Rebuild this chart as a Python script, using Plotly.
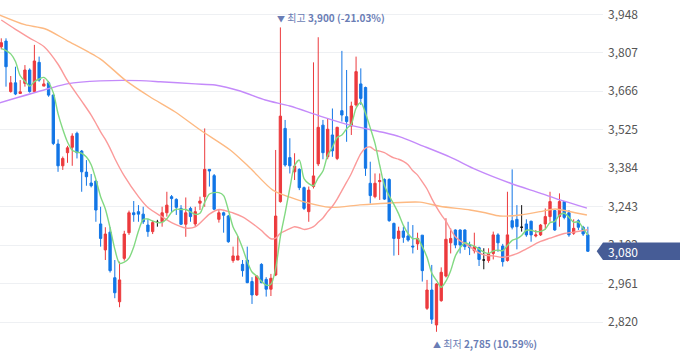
import plotly.graph_objects as go

# ---------------- data ----------------
days = list(range(125))

open_ = [3829, 3850, 3665, 3697, 3658, 3695, 3744, 3665, 3772, 3685,
         3697, 3652, 3473, 3393, 3441, 3461, 3512, 3447, 3370, 3330,
         3337, 3180, 3085, 3150, 2983, 2895, 3054, 3148, 3221, 3225,
         3216, 3176, 3152, 3186, 3188, 3221, 3280, 3270, 3237, 3179,
         3237, 3180, 3256, 3280, 3380, 3357, 3197, 3221, 3209, 3046,
         3048, 3032, 3048, 2969, 2920, 3032, 2977, 2941, 2993, 3262,
         3530, 3423, 3371, 3380, 3313, 3225, 3317, 3400, 3542, 3426,
         3506, 3420, 3595, 3573, 3539, 3616, 3693, 3680, 3329, 3280,
         3335, 3343, 3343, 3182, 3127, 3154, 3136, 3099, 3107, 3139,
         2871, 2938, 2810, 2899, 2989, 3111, 3158, 3158, 3158, 3103,
         3082, 3093, 3048, 3046, 3072, 3140, 3099, 3046, 3192, 3197,
         3168, 3180, 3190, 3136, 3140, 3180, 3207, 3229, 3207, 3262,
         3221, 3146, 3192, 3168, 3140]

high = [3860, 3860, 3722, 3756, 3707, 3762, 3750, 3836, 3793, 3710,
        3704, 3656, 3490, 3427, 3466, 3512, 3518, 3451, 3414, 3363,
        3341, 3243, 3168, 3168, 3048, 3042, 3155, 3229, 3264, 3249,
        3243, 3197, 3192, 3195, 3243, 3298, 3286, 3274, 3249, 3277,
        3243, 3243, 3280, 3530, 3380, 3363, 3231, 3225, 3213, 3097,
        3136, 3048, 3097, 2985, 2993, 3036, 2985, 2997, 3451, 3900,
        3561, 3494, 3439, 3384, 3317, 3317, 3772, 3864, 3561, 3567,
        3603, 3536, 3814, 3744, 3628, 3793, 3750, 3683, 3408, 3365,
        3365, 3347, 3347, 3185, 3170, 3170, 3188, 3176, 3148, 3139,
        2975, 3030, 2963, 3021, 3201, 3164, 3160, 3160, 3160, 3115,
        3148, 3097, 3091, 3091, 3152, 3146, 3107, 3298, 3380, 3249,
        3249, 3197, 3192, 3158, 3180, 3237, 3298, 3231, 3292, 3264,
        3231, 3197, 3197, 3173, 3170]

low = [3820, 3683, 3661, 3652, 3656, 3683, 3661, 3661, 3701, 3685,
       3646, 3469, 3371, 3378, 3404, 3393, 3420, 3298, 3320, 3314,
       3188, 3097, 3048, 3002, 2908, 2875, 3046, 3140, 3188, 3188,
       3180, 3133, 3143, 3170, 3170, 3207, 3221, 3213, 3176, 3133,
       3188, 3170, 3231, 3243, 3317, 3231, 3185, 3148, 3111, 3038,
       3048, 2987, 2963, 2887, 2916, 2963, 2914, 2916, 2989, 3258,
       3390, 3365, 3341, 3304, 3231, 3188, 3310, 3392, 3417, 3417,
       3426, 3414, 3555, 3481, 3506, 3610, 3616, 3356, 3255, 3274,
       3268, 3268, 3188, 3064, 3066, 3111, 3115, 3072, 3085, 2969,
       2865, 2814, 2785, 2895, 2984, 3072, 3091, 3072, 3085, 3066,
       3072, 3026, 3014, 3038, 3050, 3078, 3024, 3042, 3160, 3087,
       3152, 3133, 3115, 3131, 3136, 3160, 3188, 3155, 3170, 3197,
       3133, 3140, 3158, 3136, 3078]

close = [3844, 3756, 3697, 3656, 3664, 3744, 3665, 3777, 3707, 3693,
         3652, 3475, 3393, 3420, 3459, 3502, 3441, 3371, 3353, 3320,
         3231, 3127, 3143, 3009, 2928, 2975, 3143, 3221, 3214, 3216,
         3188, 3152, 3185, 3186, 3221, 3249, 3273, 3241, 3179, 3221,
         3207, 3225, 3264, 3380, 3374, 3234, 3221, 3212, 3115, 3063,
         3063, 3009, 2965, 2920, 2989, 2965, 2941, 2981, 3209, 3575,
         3396, 3393, 3392, 3313, 3237, 3304, 3356, 3534, 3441, 3527,
         3448, 3534, 3579, 3555, 3612, 3738, 3640, 3384, 3284, 3329,
         3339, 3271, 3192, 3127, 3154, 3131, 3121, 3096, 3127, 3009,
         2938, 2831, 2960, 3003, 3124, 3127, 3103, 3103, 3097, 3093,
         3097, 3050, 3048, 3070, 3140, 3111, 3042, 3140, 3168, 3170,
         3168, 3140, 3140, 3140, 3176, 3207, 3262, 3158, 3262, 3204,
         3140, 3164, 3168, 3143, 3080]

# 5-day moving average (green), one value per day
ma5 = [3822, 3815, 3803, 3775, 3723, 3703, 3685, 3701, 3711, 3717,
       3699, 3661, 3584, 3527, 3480, 3450, 3443, 3439, 3425, 3397,
       3343, 3280, 3235, 3166, 3088, 3036, 3040, 3055, 3096, 3154,
       3196, 3198, 3191, 3185, 3186, 3199, 3223, 3234, 3233, 3233,
       3224, 3215, 3219, 3259, 3290, 3295, 3295, 3284, 3231, 3169,
       3135, 3092, 3043, 3004, 2989, 2970, 2956, 2959, 3017, 3134,
       3220, 3311, 3393, 3414, 3346, 3328, 3320, 3349, 3374, 3432,
       3461, 3497, 3506, 3529, 3546, 3604, 3625, 3586, 3532, 3475,
       3395, 3321, 3283, 3252, 3217, 3175, 3145, 3126, 3126, 3097,
       3058, 3000, 2973, 2948, 2971, 3009, 3063, 3092, 3111, 3105,
       3099, 3088, 3077, 3072, 3081, 3084, 3082, 3101, 3120, 3126,
       3138, 3157, 3157, 3152, 3153, 3161, 3185, 3189, 3213, 3219,
       3205, 3186, 3188, 3164, 3139]

# 20-day moving average (red)
ma20_day = [0, 3, 6, 9, 12, 14, 17, 19, 20, 21, 22, 23, 24, 26, 29, 31, 34, 36,
            39, 41, 44, 46, 49, 51, 54, 55, 56, 57, 58, 59, 60, 61, 62, 63, 64,
            65, 66, 67, 68, 69, 70, 71, 72, 73, 74, 75, 76, 77, 78, 79, 80, 81,
            82, 83, 84, 85, 86, 87, 88, 89, 90, 91, 92, 93, 94, 95, 96, 97, 98,
            99, 100, 101, 102, 103, 104, 106, 109, 111, 114, 116, 119, 121, 124]
ma20 = [3927, 3893, 3861, 3830, 3765, 3705, 3630, 3579, 3549, 3517, 3490, 3457,
        3420, 3356, 3280, 3240, 3206, 3185, 3165, 3169, 3216, 3233, 3220, 3206,
        3170, 3156, 3139, 3126, 3128, 3146, 3155, 3163, 3170, 3166, 3160, 3163,
        3170, 3186, 3202, 3225, 3245, 3271, 3302, 3333, 3365, 3403, 3438, 3458,
        3462, 3450, 3447, 3441, 3431, 3422, 3417, 3409, 3397, 3375, 3359, 3334,
        3308, 3273, 3242, 3214, 3190, 3159, 3133, 3118, 3109, 3097, 3085, 3074,
        3067, 3064, 3063, 3058, 3071, 3089, 3116, 3128, 3145, 3150, 3159]

# 60-day moving average (orange)
ma60_day = [-0.3, 5.0, 9.2, 13.9, 20.9, 26.2, 31.4, 36.7, 42.0, 48.4, 52.6,
            57.4, 61.0, 63.8, 69.5, 75.8, 81.5, 88.5, 92.7, 99.1, 102.3,
            105.4, 109.7, 113.9, 117.1, 121.3, 123.8]
ma60 = [3945, 3910, 3895, 3852, 3785, 3707, 3646, 3591, 3525, 3451, 3385,
        3304, 3278, 3262, 3241, 3250, 3256, 3260, 3245, 3231, 3221,
        3209, 3213, 3225, 3235, 3221, 3213]

# 120-day moving average (purple)
ma120_day = [-0.3, 10.3, 13.9, 20.9, 29.3, 33.6, 41.0, 45.2, 50.5, 55.8,
             61.0, 67.4, 73.7, 81.1, 84.3, 88.5, 94.9, 100.5, 107.5, 113.9,
             118.1, 123.8]
ma120 = [3624, 3677, 3693, 3704, 3705, 3701, 3693, 3689, 3667, 3634,
         3612, 3575, 3542, 3514, 3499, 3470, 3425, 3378, 3330, 3293,
         3268, 3238]

y_ticks = [2820, 2961, 3102, 3243, 3384, 3525, 3666, 3807, 3948]
y_tick_labels = ["2,820", "2,961", "3,102", "3,243", "3,384", "3,525",
                 "3,666", "3,807", "3,948"]

high_day, high_value, high_label, high_pct = 59, 3900, "최고", "-21.03%"
low_day, low_value, low_label, low_pct = 92, 2785, "최저", "10.59%"
last_price = 3080

# ---------------- styling ----------------
RED = "#ec3a3d"
BLUE = "#1276e6"
FONT = "Noto Sans CJK KR"
Y_MIN, Y_MAX = 2689, 4000.4
X_MIN, X_MAX = -0.27, 127.2
W, H = 680, 358
MARGIN_R = 77
PLOT_W = W - MARGIN_R

fig = go.Figure()


def subset(cond):
    idx = [i for i in days if cond(open_[i], close[i])]
    return ([days[i] for i in idx], [open_[i] for i in idx], [high[i] for i in idx],
            [low[i] for i in idx], [close[i] for i in idx])


for cond, col in [(lambda o, c: c > o, RED), (lambda o, c: c < o, BLUE),
                  (lambda o, c: c == o, "#111111")]:
    x, o, h, l, c = subset(cond)
    fig.add_trace(go.Candlestick(
        x=x, open=o, high=h, low=l, close=c,
        increasing=dict(line=dict(color=col, width=1), fillcolor=col),
        decreasing=dict(line=dict(color=col, width=1), fillcolor=col),
        hoverinfo="skip", showlegend=False))

for xs, ys, col in [(ma120_day, ma120, "#c48afa"),
                    (ma60_day, ma60, "#fdb982"),
                    (ma20_day, ma20, "#fb9a9a"),
                    (days, ma5, "#82d982")]:
    fig.add_trace(go.Scatter(x=xs, y=ys, mode="lines",
                             line=dict(color=col, width=1.4, shape="spline", smoothing=0.8),
                             hoverinfo="skip", showlegend=False))

# high / low markers
fig.add_annotation(x=high_day, y=high_value, xref="x", yref="y",
                   text=f"<span style='font-size:8px'>▼</span> {high_label} <b>{high_value:,} ({high_pct})</b>",
                   showarrow=False, xanchor="left", yanchor="bottom", xshift=-5, yshift=0,
                   font=dict(family=FONT, size=10, color="#6a7db5"))
fig.add_annotation(x=low_day, y=low_value, xref="x", yref="y",
                   text=f"<span style='font-size:8px'>▲</span> {low_label} <b>{low_value:,} ({low_pct})</b>",
                   showarrow=False, xanchor="left", yanchor="top", xshift=-5, yshift=-2,
                   font=dict(family=FONT, size=10, color="#6a7db5"))

# current price tag on the axis
yc = (last_price - Y_MIN) / (Y_MAX - Y_MIN)
hh = 8.7 / H
x0 = 1.0
x_tip = 1.0 - 6.3 / PLOT_W
x_end = W / PLOT_W
fig.add_shape(type="path", xref="paper", yref="paper",
              path=f"M {x0} {yc + hh} L {x_end} {yc + hh} L {x_end} {yc - hh} L {x0} {yc - hh} L {x_tip} {yc} Z",
              fillcolor="#465c96", line=dict(width=0), layer="above")
fig.add_annotation(x=1.0 + 3 / PLOT_W, y=yc, xref="paper", yref="paper",
                   text=f"{last_price:,}", showarrow=False, xanchor="left", yanchor="middle",
                   font=dict(family=FONT, size=12, color="white"))

fig.update_layout(
    width=W, height=H,
    margin=dict(l=0, r=MARGIN_R, t=0, b=0),
    paper_bgcolor="white", plot_bgcolor="white",
    showlegend=False,
    font=dict(family=FONT),
    xaxis=dict(range=[X_MIN, X_MAX], showgrid=False, zeroline=False, showticklabels=False,
               ticks="", showline=False, rangeslider=dict(visible=False), fixedrange=True),
    yaxis=dict(range=[Y_MIN, Y_MAX], side="right", tickvals=y_ticks, ticktext=y_tick_labels,
               showgrid=True, gridcolor="#eef0f3", gridwidth=1, zeroline=False, showline=False,
               ticks="", ticklabelstandoff=4,
               tickfont=dict(family=FONT, size=12, color="#555555"), fixedrange=True),
)

fig.write_html("out.html", config={"displayModeBar": False},
               post_script="document.body.style.margin='0px';document.body.style.overflow='hidden';")
